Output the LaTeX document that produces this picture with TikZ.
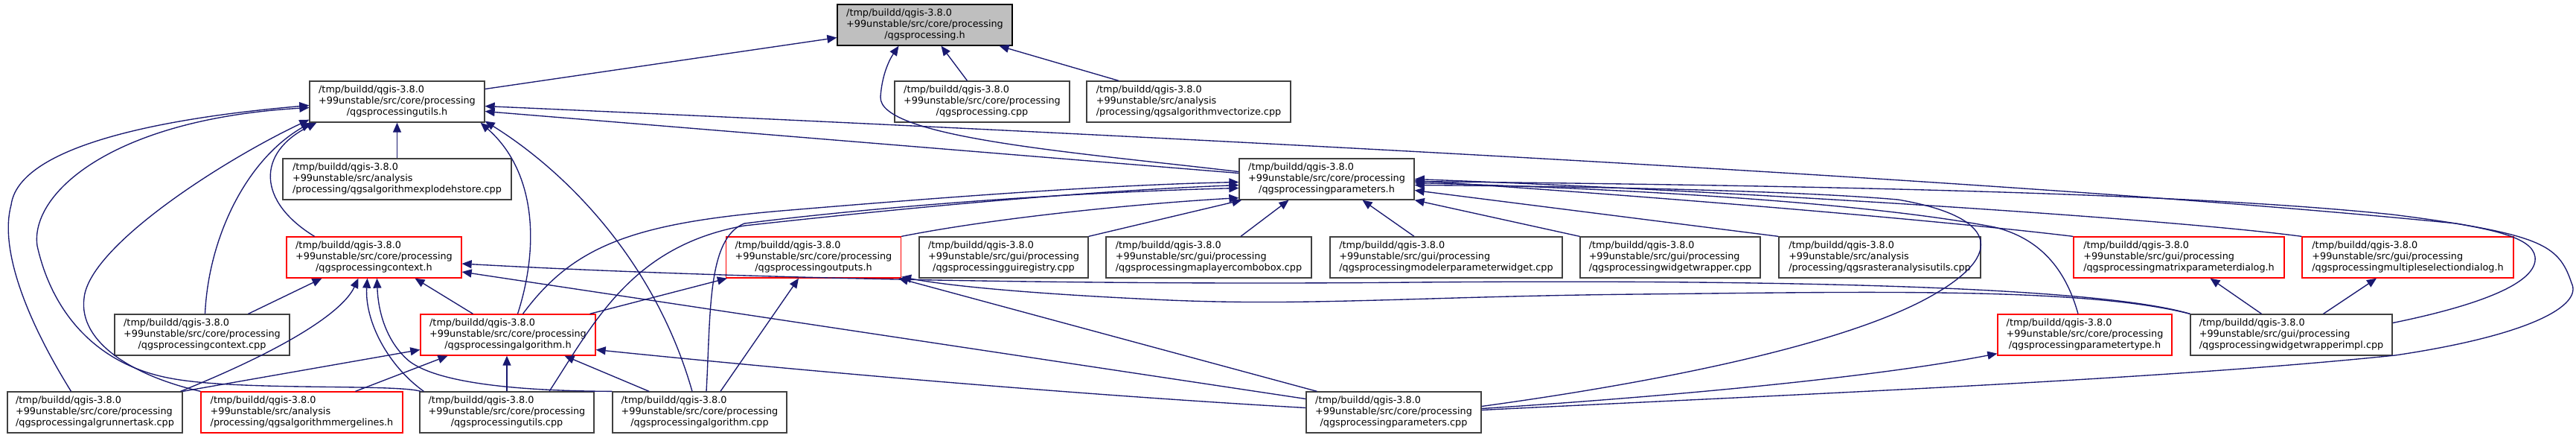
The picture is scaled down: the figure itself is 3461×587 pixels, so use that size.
\documentclass[tikz,border=0pt]{standalone}
\usepackage{fontspec}
\setmainfont{DejaVu Sans}
\usetikzlibrary{calc,arrows.meta}
\definecolor{midblue}{HTML}{191970}
\definecolor{grey25}{HTML}{404040}
\definecolor{grey75}{HTML}{BFBFBF}
\definecolor{trunc}{HTML}{FF0000}
\newcommand\dfont{\fontsize{12.8}{14.7}\selectfont}
\newcommand\dlab[3]{\begin{tabular}{@{}l@{}}#1\\#2\\\multicolumn{1}{@{}c@{}}{#3}\end{tabular}}
\newcommand\tb{/tmp/buildd/qgis-3.8.0}
\newcommand\cp{+99unstable/src/core/processing}
\newcommand\gp{+99unstable/src/gui/processing}
\newcommand\an{+99unstable/src/analysis}
\tikzset{
  box/.style={draw=grey25, line width=1.3pt, fill=white, inner sep=0pt,
    minimum height=55pt, font=\dfont},
  redbox/.style={box, draw=trunc},
  rootbox/.style={box, draw=black, fill=grey75},
  dep/.style={draw=midblue, line width=1.35pt,
    -{Triangle[length=13pt,width=11pt]}},
}
\begin{document}
\begin{tikzpicture}[x=1pt,y=-1pt]
\useasboundingbox (0,0) rectangle (3461,587);
% rank 0
\node[rootbox, minimum width=235pt] (proch) at (1242.5,33.5) {\dlab{\tb}{\cp}{/qgsprocessing.h}};
% rank 1
\node[box, minimum width=235pt] (utilsh) at (533.5,136.5) {\dlab{\tb}{\cp}{/qgsprocessingutils.h}};
\node[box, minimum width=235pt] (proccpp) at (1319.5,136.5) {\dlab{\tb}{\cp}{/qgsprocessing.cpp}};
\node[box, minimum width=274pt] (vect) at (1597,136.5) {\dlab{\tb}{\an}{/processing/qgsalgorithmvectorize.cpp}};
% rank 2
\node[box, minimum width=307pt] (explode) at (533.5,240.5) {\dlab{\tb}{\an}{/processing/qgsalgorithmexplodehstore.cpp}};
\node[box, minimum width=235pt] (paramh) at (1782.5,240.5) {\dlab{\tb}{\cp}{/qgsprocessingparameters.h}};
% rank 3
\node[redbox, minimum width=235pt] (ctxh) at (502.5,345.5) {\dlab{\tb}{\cp}{/qgsprocessingcontext.h}};
\node[redbox, minimum width=235pt] (outh) at (1093,345.5) {\dlab{\tb}{\cp}{/qgsprocessingoutputs.h}};
\node[box, minimum width=227pt] (guireg) at (1348.5,345.5) {\dlab{\tb}{\gp}{/qgsprocessingguiregistry.cpp}};
\node[box, minimum width=276pt] (mapl) at (1624,345.5) {\dlab{\tb}{\gp}{/qgsprocessingmaplayercombobox.cpp}};
\node[box, minimum width=312pt] (modeler) at (1943,345.5) {\dlab{\tb}{\gp}{/qgsprocessingmodelerparameterwidget.cpp}};
\node[box, minimum width=242pt] (wwrap) at (2244,345.5) {\dlab{\tb}{\gp}{/qgsprocessingwidgetwrapper.cpp}};
\node[box, minimum width=271pt] (raster) at (2525.5,345.5) {\dlab{\tb}{\an}{/processing/qgsrasteranalysisutils.cpp}};
\node[redbox, minimum width=283pt] (matrix) at (2927.5,345.5) {\dlab{\tb}{\gp}{/qgsprocessingmatrixparameterdialog.h}};
\node[redbox, minimum width=284pt] (multi) at (3235,345.5) {\dlab{\tb}{\gp}{/qgsprocessingmultipleselectiondialog.h}};
% rank 4
\node[box, minimum width=235pt] (ctxcpp) at (271.5,449.5) {\dlab{\tb}{\cp}{/qgsprocessingcontext.cpp}};
\node[redbox, minimum width=235pt] (algh) at (682.5,449.5) {\dlab{\tb}{\cp}{/qgsprocessingalgorithm.h}};
\node[redbox, minimum width=234pt] (ptype) at (2801,449.5) {\dlab{\tb}{\cp}{/qgsprocessingparametertype.h}};
\node[box, minimum width=271pt] (wimpl) at (3078.5,449.5) {\dlab{\tb}{\gp}{/qgsprocessingwidgetwrapperimpl.cpp}};
% rank 5
\node[box, minimum width=235pt] (runner) at (127.5,553.5) {\dlab{\tb}{\cp}{/qgsprocessingalgrunnertask.cpp}};
\node[redbox, minimum width=271pt] (merge) at (405.5,553.5) {\dlab{\tb}{\an}{/processing/qgsalgorithmmergelines.h}};
\node[box, minimum width=234pt] (utilscpp) at (681,553.5) {\dlab{\tb}{\cp}{/qgsprocessingutils.cpp}};
\node[box, minimum width=234pt] (algcpp) at (940,553.5) {\dlab{\tb}{\cp}{/qgsprocessingalgorithm.cpp}};
\node[box, minimum width=235pt] (paramcpp) at (1872.5,553.5) {\dlab{\tb}{\cp}{/qgsprocessingparameters.cpp}};

% ---- edges into qgsprocessing.h
\draw[dep] ($(utilsh.east)+(0,-17)$) -- ($(proch.west)+(0,17)$);
\draw[dep] ($(proccpp.north)+(-20,0)$) -- ($(proch.south)+(22,0)$);
\draw[dep] ($(vect.north)+(-94,0)$) -- ($(proch.south)+(100,0)$);
\draw[dep] ($(paramh.west)+(0,-10)$) .. controls (1450,205) and (1180,185) .. (1183,130)
  .. controls (1185,100) and (1195,80) .. ($(proch.south)+(-35,0)$);
% ---- edges into qgsprocessingutils.h
\draw[dep] (explode.north) -- (utilsh.south);
\draw[dep] ($(paramh.west)+(0,-8)$) -- ($(utilsh.east)+(0,13)$);
\draw[dep] ($(paramcpp.east)+(0,-3)$) .. controls (2400,530) and (2900,510) .. (3218,477)
  .. controls (3400,450) and (3470,410) .. (3455,380)
  .. controls (3440,335) and (3420,320) .. (3300,300)
  .. controls (2700,240) and (1500,180) .. ($(utilsh.east)+(0,6)$);
\draw[dep] ($(ctxh.north)+(-80,0)$) .. controls (345,270) and (345,205) .. ($(utilsh.south west)+(10,0)$);
\draw[dep] ($(ctxcpp.north)+(4,0)$) .. controls (280,320) and (330,215) .. ($(utilsh.south west)+(2,0)$);
\draw[dep] (merge.north west) .. controls (180,505) and (105,460) .. (113,400)
  .. controls (120,330) and (300,215) .. ($(utilsh.south west)+(0,-4)$);
\draw[dep] ($(runner.north)+(-32,0)$) .. controls (30,420) and (0,330) .. (15,275)
  .. controls (25,200) and (200,160) .. ($(utilsh.west)+(0,5)$);
\draw[dep] ($(utilscpp.north west)+(2,0)$) .. controls (530,515) and (320,525) .. (230,508)
  .. controls (130,490) and (70,420) .. (50,330)
  .. controls (40,260) and (150,160) .. ($(utilsh.west)+(0,8)$);
\draw[dep] ($(algh.north)+(13,0)$) .. controls (725,330) and (720,230) .. ($(utilsh.south east)+(-6,0)$);
\draw[dep] ($(algcpp.north)+(-10,0)$) .. controls (880,350) and (760,230) .. ($(utilsh.south east)+(0,-2)$);
% ---- edges into qgsprocessingcontext.h
\draw[dep] ($(ctxcpp.north)+(62,0)$) -- ($(ctxh.south)+(-70,0)$);
\draw[dep] ($(runner.north east)+(-3,0)$) .. controls (380,470) and (460,420) .. ($(ctxh.south)+(-21,0)$);
\draw[dep] ($(utilscpp.north west)+(6,0)$) .. controls (520,490) and (490,430) .. ($(ctxh.south)+(-9,0)$);
\draw[dep] (algcpp.north west) .. controls (700,525) and (590,515) .. (550,485)
  .. controls (520,460) and (508,420) .. ($(ctxh.south)+(4,0)$);
\draw[dep] ($(algh.north)+(-47,0)$) -- ($(ctxh.south)+(55,0)$);
\draw[dep] (wimpl.north west) .. controls (2820,385) and (2400,375) .. (1900,379)
  .. controls (1500,383) and (1000,375) .. ($(ctxh.east)+(0,8.5)$);
\draw[dep] ($(paramcpp.west)+(0,-18)$) -- ($(ctxh.east)+(0,19.5)$);
% ---- edges into qgsprocessingalgorithm.h
\draw[dep] (runner.north east) -- ($(algh.west)+(0,20)$);
\draw[dep] ($(merge.north)+(72,0)$) -- ($(algh.south)+(-81,0)$);
\draw[dep] (utilscpp.north) -- (utilscpp.north |- algh.south);
\draw[dep] ($(algcpp.north)+(-68,0)$) -- ($(algh.south)+(76,0)$);
\draw[dep] ($(paramcpp.west)+(0,-6)$) .. controls (1450,530) and (1100,500) .. ($(algh.east)+(0,20)$);
% ---- edges into qgsprocessingoutputs.h
\draw[dep] ($(algh.north)+(110,0)$) -- ($(outh.south west)+(2,0)$);
\draw[dep] ($(algcpp.north)+(28,0)$) -- ($(outh.south)+(-20,0)$);
\draw[dep] ($(paramcpp.north west)+(15,0)$) -- ($(outh.south east)+(-4,0)$);
\draw[dep] (wimpl.north west) .. controls (2800,385) and (2500,392) .. (2200,395)
  .. controls (1900,398) and (1750,412) .. (1550,402)
  .. controls (1400,395) and (1280,385) .. ($(outh.south east)+(0,-2)$);
% ---- edges into qgsprocessingparameters.h
\draw[dep] ($(algh.north)+(20,0)$) .. controls (770,330) and (850,300) .. (1050,283)
  .. controls (1300,262) and (1500,248) .. ($(paramh.west)+(0,4)$);
\draw[dep] ($(utilscpp.north)+(57,0)$) .. controls (800,430) and (850,330) .. (1000,303)
  .. controls (1300,270) and (1500,255) .. ($(paramh.west)+(0,8)$);
\draw[dep] ($(algcpp.north)+(9,0)$) .. controls (955,420) and (950,320) .. (1000,300)
  .. controls (1200,275) and (1450,258) .. ($(paramh.west)+(0,12)$);
\draw[dep] (outh.north east) .. controls (1350,290) and (1550,272) .. ($(paramh.south west)+(0,-3)$);
\draw[dep] (guireg.north east) -- ($(paramh.south west)+(4,0)$);
\draw[dep] ($(mapl.north)+(43,0)$) -- ($(paramh.south)+(-51,0)$);
\draw[dep] ($(modeler.north)+(-43,0)$) -- ($(paramh.south)+(48,0)$);
\draw[dep] (wwrap.north west) -- (paramh.south east);
\draw[dep] (raster.north west) -- ($(paramh.east)+(0,15)$);
\draw[dep] (matrix.north west) .. controls (2600,295) and (2200,262) .. ($(paramh.east)+(0,2)$);
\draw[dep] (multi.north west) .. controls (2900,292) and (2300,255) .. ($(paramh.east)+(0,0)$);
\draw[dep] ($(ptype.north)+(-9,0)$) .. controls (2775,360) and (2740,320) .. (2680,305)
  .. controls (2500,270) and (2150,252) .. ($(paramh.east)+(0,5)$);
\draw[dep] ($(paramcpp.east)+(0,-8)$) .. controls (2250,510) and (2480,460) .. (2590,400)
  .. controls (2700,340) and (2680,290) .. (2550,268)
  .. controls (2400,255) and (2100,250) .. ($(paramh.east)+(0,8)$);
\draw[dep] ($(wimpl.east)+(0,-16)$) .. controls (3330,410) and (3410,380) .. (3406,345)
  .. controls (3402,318) and (3350,305) .. (3214,288)
  .. controls (2900,255) and (2300,248) .. ($(paramh.east)+(0,3)$);
% ---- remaining edges
\draw[dep] ($(paramcpp.east)+(0,-5)$) .. controls (2200,535) and (2500,510) .. ($(ptype.south west)+(0,-3)$);
\draw[dep] ($(wimpl.north)+(-40,0)$) -- ($(matrix.south)+(42,0)$);
\draw[dep] ($(wimpl.north)+(43,0)$) -- ($(multi.south)+(-42,0)$);
\end{tikzpicture}
\end{document}
